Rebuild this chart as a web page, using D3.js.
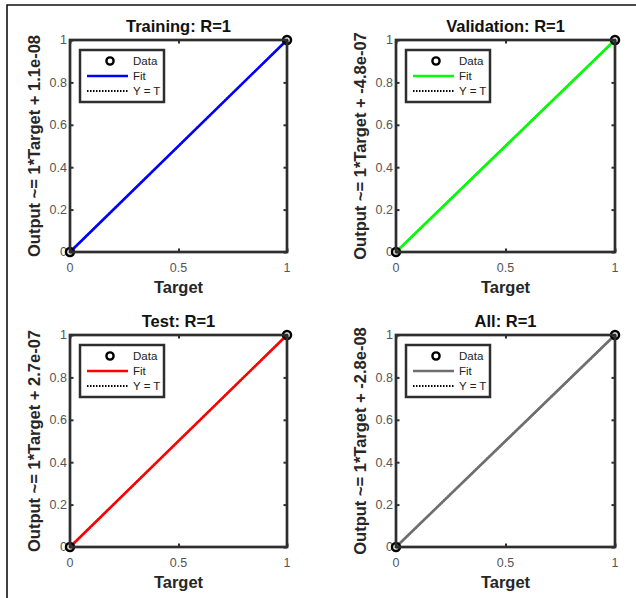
<!DOCTYPE html>
<html>
<head>
<meta charset="utf-8">
<script src="https://cdn.jsdelivr.net/npm/d3@7"></script>
<style>
  html, body { margin: 0; padding: 0; background: #fff; }
  svg { display: block; }
  text { font-family: "Liberation Sans", Arial, sans-serif; }
</style>
</head>
<body>
<svg id="chart" width="636" height="598"></svg>
<script>
// Regression panels: one per data split
const panelNames = ["Training", "Validation", "Test", "All"];
const rValues = ["1", "1", "1", "1"];
const fitSlopes = [1, 1, 1, 1];
const fitIntercepts = [1.1e-08, -4.8e-07, 2.7e-07, -2.8e-08];
const interceptLabels = ["1.1e-08", "-4.8e-07", "2.7e-07", "-2.8e-08"];
const targets = [0, 1];
const outputs = [[0, 1], [0, 1], [0, 1], [0, 1]];
const xTicks = [0, 0.5, 1];
const yTicks = [0, 0.2, 0.4, 0.6, 0.8, 1];
const xTickLabels = ["0", "0.5", "1"];
const yTickLabels = ["0", "0.2", "0.4", "0.6", "0.8", "1"];
const legendLabels = ["Data", "Fit", "Y = T"];

const fitColors = ["#0000ff", "#00ff00", "#ff0000", "#6f6f6f"];
const boxColor = "#2e2e2e";
const tickTextColor = "#555555";
const labelColor = "#262626";

const svg = d3.select("#chart");
svg.append("rect").attr("width", 636).attr("height", 598).attr("fill", "#fff");

// outer figure frame
svg.append("path")
  .attr("d", "M7,598 L7,5 L636,5")
  .attr("fill", "none").attr("stroke", "#111").attr("stroke-width", 1.6);

const cols = [[70, 287], [396, 615]];
const rows = [[252, 40], [547, 335]];

panelNames.forEach((name, i) => {
  const col = cols[i % 2], row = rows[Math.floor(i / 2)];
  const x = d3.scaleLinear().domain([0, 1]).range(col);
  const y = d3.scaleLinear().domain([0, 1]).range(row);
  const g = svg.append("g");
  const cx = (col[0] + col[1]) / 2, cy = (row[0] + row[1]) / 2;

  // inward ticks on all four sides
  const tickLen = 3.5;
  const xAxisB = d3.axisBottom(x).tickValues(xTicks).tickSize(-tickLen).tickFormat("");
  const xAxisT = d3.axisTop(x).tickValues(xTicks).tickSize(-tickLen).tickFormat("");
  const yAxisL = d3.axisLeft(y).tickValues(yTicks).tickSize(-tickLen).tickFormat("");
  const yAxisR = d3.axisRight(y).tickValues(yTicks).tickSize(-tickLen).tickFormat("");
  [[xAxisB, `translate(0,${row[0]})`], [xAxisT, `translate(0,${row[1]})`],
   [yAxisL, `translate(${col[0]},0)`], [yAxisR, `translate(${col[1]},0)`]].forEach(([ax, tr]) => {
    const a = g.append("g").attr("transform", tr).call(ax);
    a.select(".domain").remove();
    a.selectAll("line").attr("stroke", boxColor).attr("stroke-width", 2);
  });

  // tick labels
  g.selectAll(".xt").data(xTicks).enter().append("text")
    .attr("x", d => x(d)).attr("y", row[0] + 20)
    .attr("text-anchor", "middle").attr("font-size", 12.5).attr("fill", tickTextColor)
    .text((d, k) => xTickLabels[k]);
  g.selectAll(".yt").data(yTicks).enter().append("text")
    .attr("x", col[0] - 3).attr("y", d => y(d)).attr("dy", "0.35em")
    .attr("text-anchor", "end").attr("font-size", 12.5).attr("fill", tickTextColor)
    .text((d, k) => yTickLabels[k]);

  // Y = T reference line (dotted), then the fit line
  g.append("line")
    .attr("x1", x(0)).attr("y1", y(0)).attr("x2", x(1)).attr("y2", y(1))
    .attr("stroke", "#000").attr("stroke-width", 2).attr("stroke-dasharray", "1.5,1.5");
  const fitLine = d3.line().x(d => x(d)).y(d => y(fitSlopes[i] * d + fitIntercepts[i]));
  g.append("path").datum(targets).attr("d", fitLine)
    .attr("fill", "none").attr("stroke", fitColors[i]).attr("stroke-width", 2.6);

  // data points
  g.selectAll(".pt").data(targets).enter().append("circle")
    .attr("cx", d => x(d)).attr("cy", (d, k) => y(outputs[i][k])).attr("r", 4)
    .attr("fill", "none").attr("stroke", "#000").attr("stroke-width", 2.5);

  // axes box
  g.append("rect")
    .attr("x", col[0]).attr("y", row[1])
    .attr("width", col[1] - col[0]).attr("height", row[0] - row[1])
    .attr("fill", "none").attr("stroke", boxColor).attr("stroke-width", 2.7);

  // title and axis labels
  g.append("text").attr("x", cx).attr("y", row[1] - 8)
    .attr("text-anchor", "middle").attr("font-size", 16.5).attr("font-weight", "bold")
    .attr("fill", "#111").text(`${name}: R=${rValues[i]}`);
  g.append("text").attr("x", cx).attr("y", row[0] + 41)
    .attr("text-anchor", "middle").attr("font-size", 16.5).attr("font-weight", "bold")
    .attr("fill", labelColor).text("Target");
  g.append("text")
    .attr("transform", `translate(${col[0] - 30},${cy}) rotate(-90)`)
    .attr("text-anchor", "middle").attr("font-size", 16.5).attr("font-weight", "bold")
    .attr("fill", labelColor)
    .text(`Output ~= ${fitSlopes[i]}*Target + ${interceptLabels[i]}`);

  // legend
  const lx = col[0] + 10, ly = row[1] + 10;
  const lg = g.append("g").attr("transform", `translate(${lx},${ly})`);
  lg.append("rect").attr("x", 0).attr("y", 0).attr("width", 84).attr("height", 52)
    .attr("fill", "#fff").attr("stroke", boxColor).attr("stroke-width", 2.5);
  const rowY = [11, 26, 41];
  lg.append("circle").attr("cx", 30).attr("cy", rowY[0]).attr("r", 3.6)
    .attr("fill", "none").attr("stroke", "#000").attr("stroke-width", 2.4);
  lg.append("line").attr("x1", 7).attr("x2", 48).attr("y1", rowY[1]).attr("y2", rowY[1])
    .attr("stroke", fitColors[i]).attr("stroke-width", 2.6);
  lg.append("line").attr("x1", 7).attr("x2", 48).attr("y1", rowY[2]).attr("y2", rowY[2])
    .attr("stroke", "#000").attr("stroke-width", 2).attr("stroke-dasharray", "1.5,1.5");
  legendLabels.forEach((t, k) => {
    lg.append("text").attr("x", 53).attr("y", rowY[k]).attr("dy", "0.36em")
      .attr("font-size", 11.5).attr("fill", "#222").text(t);
  });
});
</script>
</body>
</html>
